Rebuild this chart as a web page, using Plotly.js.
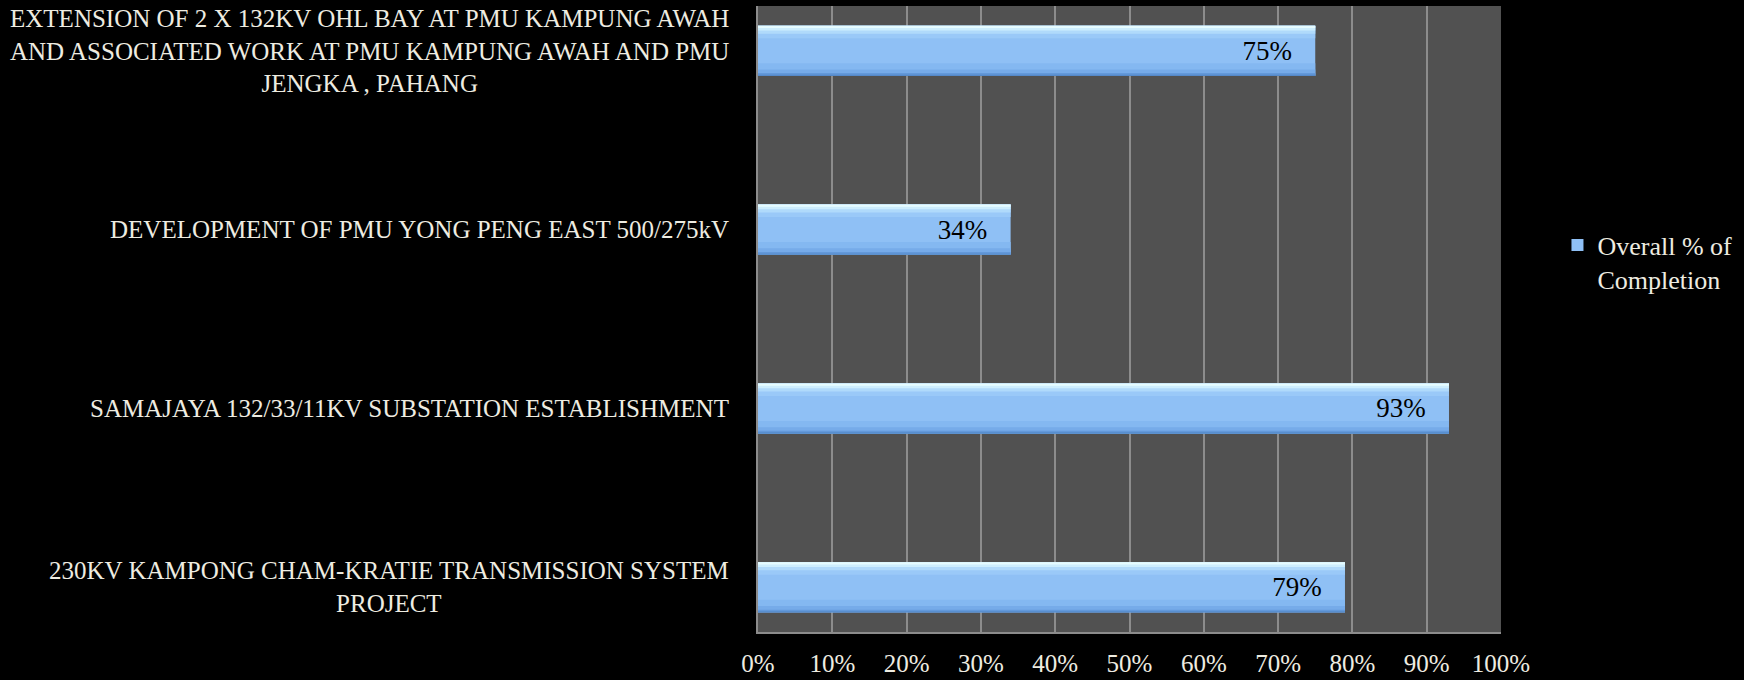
<!DOCTYPE html>
<html>
<head>
<meta charset="utf-8">
<script src="https://cdn.plot.ly/plotly-3.0.1.min.js"></script>
<style>
html,body{margin:0;padding:0;background:#000;}
#chart{width:1744px;height:680px;}
</style>
</head>
<body>
<div id="chart"></div>
<script>
// Data (bottom to top)
var categories = [
  "230KV KAMPONG CHAM-KRATIE TRANSMISSION SYSTEM<br>PROJECT",
  "SAMAJAYA 132/33/11KV SUBSTATION ESTABLISHMENT",
  "DEVELOPMENT OF PMU YONG PENG EAST 500/275kV",
  "EXTENSION OF 2 X 132KV OHL BAY AT PMU KAMPUNG AWAH<br>AND ASSOCIATED WORK AT PMU KAMPUNG AWAH AND PMU<br>JENGKA , PAHANG"
];
var completion = [0.79, 0.93, 0.34, 0.75];
var seriesName = "Overall % of<br>Completion";
var xTickValues = [0, 0.1, 0.2, 0.3, 0.4, 0.5, 0.6, 0.7, 0.8, 0.9, 1.0];

var textColor = "#EEECE1";
var fontFam = "'Liberation Serif', 'DejaVu Serif', serif";

// bar shading bands: [offset, width, color]
var bands = [
  [-0.14, 0.07, "#84b8f1"],
  [-0.14, 0.035, "#76abe9"],
  [-0.14, 0.015, "#6399da"],
  [-0.14, 0.005, "#4f83c2"],
  [0.07, 0.07, "#9ac9f8"],
  [0.095, 0.045, "#b0dafb"],
  [0.113, 0.027, "#cdeefe"],
  [0.127, 0.013, "#e6fcff"]
];

var traces = [];
traces.push({
  type: "bar", orientation: "h",
  x: completion, y: categories,
  width: 0.28, offset: -0.14,
  marker: {color: "#8fc0f5", line: {width: 0}},
  name: seriesName, showlegend: true, hoverinfo: "skip"
});
bands.forEach(function(b){
  traces.push({
    type: "bar", orientation: "h",
    x: completion, y: categories,
    width: b[1], offset: b[0],
    marker: {color: b[2], line: {width: 0}},
    showlegend: false, hoverinfo: "skip"
  });
});
traces.push({
  type: "bar", orientation: "h",
  x: completion, y: categories,
  width: 0.28, offset: -0.14,
  marker: {color: "rgba(0,0,0,0)", line: {width: 0}},
  texttemplate: "%{x:.0%}\u00a0\u00a0\u00a0",
  textposition: "inside", insidetextanchor: "end",
  textfont: {family: fontFam, size: 27, color: "#000000"},
  constraintext: "none",
  showlegend: false, hoverinfo: "skip"
});

var annotations = categories.map(function(c){
  return {
    xref: "paper", yref: "y", x: 0, y: c,
    xanchor: "right", yanchor: "middle", xshift: -27,
    text: c, align: "center", showarrow: false,
    font: {family: fontFam, size: 25, color: textColor}
  };
});

var layout = {
  width: 1744, height: 680,
  paper_bgcolor: "#000000", plot_bgcolor: "#515151",
  margin: {l: 758, r: 237, t: 6, b: 48},
  barmode: "overlay",
  hovermode: false,
  showlegend: true,
  legend: {
    x: 1.076, y: 0.591, xanchor: "left", yanchor: "middle",
    valign: "top", bgcolor: "rgba(0,0,0,0)",
    font: {family: fontFam, size: 26, color: textColor}
  },
  xaxis: {
    range: [0, 1], tickvals: xTickValues, tickformat: ".0%",
    showgrid: true, gridcolor: "#8c8c8c", gridwidth: 2,
    zeroline: false, showline: true, linecolor: "#8c8c8c", linewidth: 2,
    ticks: "", ticklabelstandoff: 8,
    tickfont: {family: fontFam, size: 25, color: textColor},
    fixedrange: true
  },
  yaxis: {
    type: "category", categoryarray: categories, categoryorder: "array",
    range: [-0.25, 3.25],
    showgrid: false, zeroline: false,
    showline: true, linecolor: "#8c8c8c", linewidth: 2,
    showticklabels: false, ticks: "",
    fixedrange: true
  },
  annotations: annotations
};

Plotly.newPlot("chart", traces, layout, {displayModeBar: false, staticPlot: true});
</script>
</body>
</html>
